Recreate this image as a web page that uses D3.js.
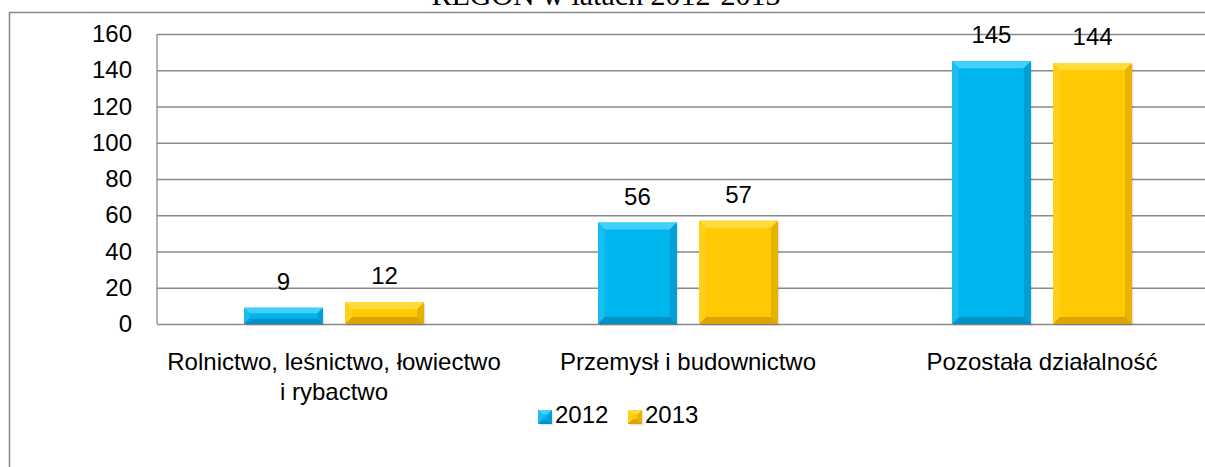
<!DOCTYPE html>
<html>
<head>
<meta charset="utf-8">
<style>
  body { margin: 0; background: #fff; }
  text { font-family: "Liberation Sans", Arial, sans-serif; fill: #000; }
  .grid line { stroke: #8a8a8a; stroke-width: 1.3px; }
  .grid path { display: none; }
</style>
</head>
<body>
<svg width="1205" height="467"></svg>
<script src="https://cdn.jsdelivr.net/npm/d3@7"></script>
<script>
// data
var categories = ['Rolnictwo, leśnictwo, łowiectwo i rybactwo', 'Przemysł i budownictwo', 'Pozostała działalność'];
var categoryLines = [['Rolnictwo, leśnictwo, łowiectwo', 'i rybactwo'], ['Przemysł i budownictwo'], ['Pozostała działalność']];
var years = ['2012', '2013'];
var values2012 = [9, 56, 145];
var values2013 = [12, 57, 144];
var yTicks = [0, 20, 40, 60, 80, 100, 120, 140, 160];
var title = 'REGON w latach 2012-2013';

var colors = {
  '2012': { base: '#00b6ef', top: '#42d0fb', left: '#18bdf2', right: '#00a0d6', bottom: '#0092c6' },
  '2013': { base: '#ffc903', top: '#ffdc3c', left: '#ffcf1a', right: '#e8b200', bottom: '#dba400' }
};

var svg = d3.select('svg');
var width = +svg.attr('width');

var plotLeft = 157, plotTop = 34, plotBottom = 324;
var bandW = 354;

var x0 = d3.scaleBand()
           .domain(categories)
           .range([plotLeft, plotLeft + bandW * categories.length])
           .padding(0);

var x1 = d3.scaleBand()
           .domain(years)
           .range([0, x0.bandwidth()])
           .paddingInner(0.22)
           .paddingOuter(0.86);

var y = d3.scaleLinear()
          .domain([0, 160])
          .range([plotBottom, plotTop]);

// outer chart border
svg.append('path')
   .attr('d', 'M9.5,' + (width + 20) + ' V12.5 H' + (width + 20))
   .attr('fill', 'none')
   .attr('stroke', '#8a8a8a')
   .attr('stroke-width', 1.6);

// title (cut off at the top, as in the source)
svg.append('text')
   .attr('x', 606)
   .attr('y', 5)
   .attr('text-anchor', 'middle')
   .style('font-family', '"Liberation Serif", "Times New Roman", serif')
   .style('font-size', '30px')
   .text(title);

// gridlines + y labels
var yAxis = svg.append('g')
   .attr('class', 'grid')
   .attr('transform', 'translate(' + plotLeft + ',0)')
   .call(d3.axisLeft(y)
           .tickValues(yTicks)
           .tickSize(-(width - plotLeft + 20))
           .tickPadding(25));

yAxis.selectAll('text')
     .style('font-size', '24px')
     .style('font-family', '"Liberation Sans", Arial, sans-serif')
     .attr('fill', '#000');

// vertical axis line
svg.append('line')
   .attr('x1', plotLeft).attr('x2', plotLeft)
   .attr('y1', plotTop).attr('y2', plotBottom)
   .attr('stroke', '#8a8a8a')
   .attr('stroke-width', 1.3);

// bars
var rows = [];
categories.forEach(function(c, i) {
  rows.push({ cat: c, year: '2012', value: values2012[i] });
  rows.push({ cat: c, year: '2013', value: values2013[i] });
});

function drawBevelBar(g, bx, by, bw, bh, col) {
  var b = Math.min(7, bh / 3);
  // soft shadow
  g.append('rect')
   .attr('x', bx + 1.5).attr('y', by + 1.5)
   .attr('width', bw).attr('height', bh)
   .attr('fill', '#000').attr('opacity', 0.1);
  g.append('rect')
   .attr('x', bx).attr('y', by)
   .attr('width', bw).attr('height', bh)
   .attr('fill', col.base);
  var x2 = bx + bw, y2 = by + bh;
  var poly = function(pts, fill) {
    g.append('polygon')
     .attr('points', pts.map(function(p) { return p.join(','); }).join(' '))
     .attr('fill', fill);
  };
  poly([[bx, by], [x2, by], [x2 - b, by + b], [bx + b, by + b]], col.top);
  poly([[bx, by], [bx + b, by + b], [bx + b, y2 - b], [bx, y2]], col.left);
  poly([[x2, by], [x2, y2], [x2 - b, y2 - b], [x2 - b, by + b]], col.right);
  poly([[bx, y2], [bx + b, y2 - b], [x2 - b, y2 - b], [x2, y2]], col.bottom);
}

var barsG = svg.append('g');
rows.forEach(function(d) {
  var bx = x0(d.cat) + x1(d.year);
  var by = y(d.value);
  var g = barsG.append('g');
  drawBevelBar(g, bx, by, x1.bandwidth(), y(0) - by, colors[d.year]);
});

// value labels
svg.append('g')
   .selectAll('text')
   .data(rows)
   .enter()
   .append('text')
   .attr('x', function(d) { return x0(d.cat) + x1(d.year) + x1.bandwidth() / 2; })
   .attr('y', function(d) { return y(d.value) - 18; })
   .attr('text-anchor', 'middle')
   .style('font-size', '24px')
   .text(function(d) { return d.value; });

// category labels
var catText = svg.append('g')
   .selectAll('text')
   .data(categories)
   .enter()
   .append('text')
   .attr('text-anchor', 'middle')
   .attr('y', 370)
   .style('font-size', '24px');

catText.each(function(d, i) {
  var t = d3.select(this);
  var cx = x0(d) + x0.bandwidth() / 2;
  categoryLines[i].forEach(function(line, j) {
    t.append('tspan')
     .attr('x', cx)
     .attr('dy', j === 0 ? 0 : 30)
     .text(line);
  });
});

// legend
var legendX = [538, 628];
var legend = svg.append('g')
   .selectAll('g')
   .data(years)
   .enter()
   .append('g')
   .attr('transform', function(d, i) { return 'translate(' + legendX[i] + ',410)'; });

legend.each(function(d) {
  drawBevelBar(d3.select(this), 0, 0, 14, 14, colors[d]);
});

legend.append('text')
      .attr('x', 17)
      .attr('y', 13)
      .style('font-size', '24px')
      .text(function(d) { return d; });
</script>
</body>
</html>
